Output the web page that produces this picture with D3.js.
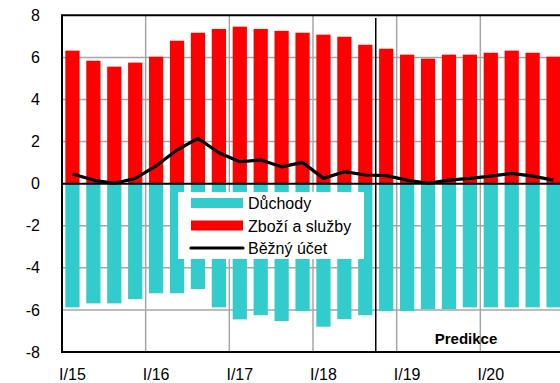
<!DOCTYPE html>
<html>
<head>
<meta charset="utf-8">
<script src="https://cdn.jsdelivr.net/npm/d3@7"></script>
<style>
  html, body { margin: 0; padding: 0; background: #fff; overflow: hidden; }
  svg { display: block; font-family: "Liberation Sans", Arial, sans-serif; }
</style>
</head>
<body>
<svg id="chart" width="560" height="383"></svg>
<script>
// Quarterly categories
const quarters = [
  "I/15","II/15","III/15","IV/15",
  "I/16","II/16","III/16","IV/16",
  "I/17","II/17","III/17","IV/17",
  "I/18","II/18","III/18","IV/18",
  "I/19","II/19","III/19","IV/19",
  "I/20","II/20","III/20","IV/20"
];
// Zboží a služby (goods and services balance)
const goods = [6.32, 5.84, 5.56, 5.75, 6.03, 6.79, 7.17, 7.35, 7.46, 7.35, 7.26, 7.17,
               7.08, 6.98, 6.60, 6.41, 6.13, 5.94, 6.13, 6.13, 6.22, 6.32, 6.22, 6.03];
// Důchody (primary income balance)
const income = [-5.88, -5.69, -5.69, -5.49, -5.21, -5.21, -5.01, -5.88, -6.45, -6.25, -6.53, -6.06,
                -6.80, -6.44, -6.25, -6.06, -6.06, -5.96, -5.96, -5.88, -5.88, -5.88, -5.88, -5.88];
// Běžný účet (current account)
const current = [0.46, 0.17, 0.01, 0.25, 0.85, 1.60, 2.15, 1.47, 1.04, 1.12, 0.80, 1.01,
                 0.25, 0.57, 0.41, 0.38, 0.17, 0.01, 0.17, 0.25, 0.36, 0.49, 0.36, 0.17];
const yTicks = [-8, -6, -4, -2, 0, 2, 4, 6, 8];
const yearTicks = ["I/15", "I/16", "I/17", "I/18", "I/19", "I/20"];
const forecastStart = "IV/18";
const legendItems = ["Důchody", "Zboží a služby", "Běžný účet"];

const svg = d3.select("#chart");
const plotLeft = 62, plotRight = 564, plotTop = 15.3, plotBottom = 352;

const x = d3.scaleBand().domain(quarters).range([plotLeft, plotRight])
  .paddingInner(0.32).paddingOuter(0.16);
const y = d3.scaleLinear().domain([-8, 8]).range([plotBottom, plotTop]);
const step = x.step();
const boundary = q => x(q) - step * x.paddingInner() / 2;

// gridlines
const grid = svg.append("g");
grid.selectAll("line.h").data(yTicks.filter(v => v !== 0 && v !== 8 && v !== -8))
  .join("line").attr("class", "h")
  .attr("x1", plotLeft).attr("x2", 560)
  .attr("y1", d => y(d)).attr("y2", d => y(d))
  .attr("stroke", "#a6a6a6").attr("stroke-width", 1.5);
grid.selectAll("line.v").data(yearTicks.slice(1))
  .join("line").attr("class", "v")
  .attr("x1", d => boundary(d)).attr("x2", d => boundary(d))
  .attr("y1", plotTop).attr("y2", plotBottom)
  .attr("stroke", "#a6a6a6").attr("stroke-width", 1.5);

// bars
svg.append("g").selectAll("rect").data(quarters)
  .join("rect")
  .attr("x", d => x(d)).attr("width", x.bandwidth())
  .attr("y", (d, i) => y(goods[i]))
  .attr("height", (d, i) => y(0) - y(goods[i]))
  .attr("fill", "#ff0000");
svg.append("g").selectAll("rect").data(quarters)
  .join("rect")
  .attr("x", d => x(d)).attr("width", x.bandwidth())
  .attr("y", y(0))
  .attr("height", (d, i) => y(income[i]) - y(0))
  .attr("fill", "#33cccc");

// plot frame
svg.append("path")
  .attr("d", `M560,${plotTop}H${plotLeft}V${plotBottom}H560`)
  .attr("fill", "none").attr("stroke", "#000").attr("stroke-width", 2);
svg.append("line")
  .attr("x1", plotLeft).attr("x2", 560).attr("y1", y(0)).attr("y2", y(0))
  .attr("stroke", "#000").attr("stroke-width", 2);

// forecast divider
svg.append("line")
  .attr("x1", boundary(forecastStart)).attr("x2", boundary(forecastStart))
  .attr("y1", 18).attr("y2", plotBottom)
  .attr("stroke", "#000").attr("stroke-width", 1.5);

// current account line
const line = d3.line()
  .x((d, i) => x(quarters[i]) + x.bandwidth() / 2)
  .y(d => y(d));
svg.append("path").datum(current)
  .attr("d", line)
  .attr("fill", "none").attr("stroke", "#000").attr("stroke-width", 3.2)
  .attr("stroke-linejoin", "round");

// y axis (plain hyphen for negatives)
const yAxis = svg.append("g")
  .attr("transform", `translate(${plotLeft},0)`)
  .call(d3.axisLeft(y).tickValues(yTicks).tickSize(0).tickPadding(22).tickFormat(d => String(d)));
yAxis.select(".domain").remove();
yAxis.selectAll("text").attr("font-size", 16).attr("fill", "#000")
  .attr("font-family", "Liberation Sans, Arial, sans-serif");

// x axis
const xAxis = svg.append("g")
  .attr("transform", `translate(0,${plotBottom})`)
  .call(d3.axisBottom(x).tickValues(yearTicks).tickSize(0).tickPadding(17));
xAxis.select(".domain").remove();
xAxis.selectAll("text").attr("font-size", 16).attr("fill", "#000")
  .attr("font-family", "Liberation Sans, Arial, sans-serif");

// forecast label
svg.append("text")
  .attr("x", 466).attr("y", 344)
  .attr("text-anchor", "middle")
  .attr("font-size", 15).attr("font-weight", "bold")
  .text("Predikce");

// legend
const lg = svg.append("g").attr("transform", "translate(178,192)");
lg.append("rect").attr("width", 186).attr("height", 67).attr("fill", "#fff");
const rows = lg.selectAll("g").data(legendItems).join("g")
  .attr("transform", (d, i) => `translate(0,${11 + i * 22.5})`);
rows.filter((d, i) => i < 2).append("rect")
  .attr("x", 13).attr("y", -5).attr("width", 52).attr("height", 10)
  .attr("fill", (d, i) => i === 0 ? "#33cccc" : "#ff0000");
rows.filter((d, i) => i === 2).append("line")
  .attr("x1", 13).attr("x2", 65).attr("y1", 0).attr("y2", 0)
  .attr("stroke", "#000").attr("stroke-width", 3.2).attr("stroke-linecap", "round");
rows.append("text")
  .attr("x", 70).attr("y", 6)
  .attr("font-size", 16).text(d => d);
</script>
</body>
</html>
